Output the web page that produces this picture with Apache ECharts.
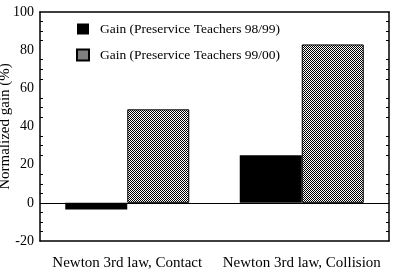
<!DOCTYPE html>
<html>
<head>
<meta charset="utf-8">
<script src="https://cdn.jsdelivr.net/npm/echarts@6/dist/echarts.min.js"></script>
<style>
html, body { margin: 0; padding: 0; background: #fff; }
#main { width: 396px; height: 272px; }
</style>
</head>
<body>
<div id="main"></div>
<script>
var categories = ['Newton 3rd law, Contact', 'Newton 3rd law, Collision'];
var seriesNames = ['Gain (Preservice Teachers 98/99)', 'Gain (Preservice Teachers 99/00)'];
var gain9899 = [-3.5, 25];
var gain9900 = [49, 83];
var yTicks = [-20, 0, 20, 40, 60, 80, 100];

// stipple fill for the 99/00 bars
var pat = document.createElement('canvas');
pat.width = 2;
pat.height = 2;
var pc = pat.getContext('2d');
pc.fillStyle = '#fff';
pc.fillRect(0, 0, 2, 2);
pc.fillStyle = '#000';
pc.fillRect(0, 0, 1, 1);
pc.fillRect(1, 1, 1, 1);

var font = 'Liberation Serif';
var myChart = echarts.init(document.getElementById('main'));
var option = {
	backgroundColor: '#fff',
	animation: false,
	legend: {
		orient: 'vertical',
		left: 76,
		top: 21,
		padding: 0,
		itemWidth: 12,
		itemHeight: 11,
		itemGap: 10,
		icon: 'rect',
		textStyle: {
			fontFamily: font,
			fontSize: 13.5,
			lineHeight: 16,
			color: '#000',
			padding: [0, 0, 0, 6]
		},
		data: seriesNames
	},
	grid: {
		left: 40,
		right: 7,
		top: 12,
		bottom: 31,
		containLabel: false,
		outerBoundsMode: 'none'
	},
	xAxis: [{
		type: 'category',
		data: categories,
		position: 'bottom',
		axisLine: { onZero: false, lineStyle: { color: '#000', width: 1.5 } },
		axisTick: { inside: true, length: 4, lineStyle: { color: '#000' } },
		axisLabel: {
			interval: 0,
			color: '#000',
			fontFamily: font,
			fontSize: 15,
			margin: 15
		}
	}, {
		type: 'category',
		data: categories,
		position: 'top',
		axisLine: { onZero: false, lineStyle: { color: '#000', width: 1.5 } },
		axisTick: { inside: true, length: 4, lineStyle: { color: '#000' } },
		axisLabel: { show: false }
	}],
	yAxis: [{
		type: 'value',
		min: yTicks[0],
		max: yTicks[yTicks.length - 1],
		interval: 20,
		name: 'Normalized gain (%)',
		nameLocation: 'middle',
		nameGap: 27,
		nameMoveOverlap: false,
		nameTextStyle: { fontFamily: font, fontSize: 15, color: '#000' },
		axisLine: { show: true, onZero: false, lineStyle: { color: '#000', width: 1.5 } },
		axisTick: { inside: true, length: 5, lineStyle: { color: '#000' } },
		minorTick: { show: true, splitNumber: 4, length: 3, lineStyle: { color: '#000' } },
		splitLine: { show: false },
		axisLabel: {
			color: '#000',
			fontFamily: font,
			fontSize: 14,
			margin: 6
		}
	}, {
		type: 'value',
		position: 'right',
		min: yTicks[0],
		max: yTicks[yTicks.length - 1],
		interval: 20,
		axisLine: { show: true, onZero: false, lineStyle: { color: '#000', width: 1.5 } },
		axisTick: { inside: true, length: 5, lineStyle: { color: '#000' } },
		minorTick: { show: true, splitNumber: 4, length: 3, lineStyle: { color: '#000' } },
		splitLine: { show: false },
		axisLabel: { show: false }
	}],
	series: [{
		name: seriesNames[0],
		type: 'bar',
		data: gain9899,
		barWidth: 62,
		barGap: '0%',
		itemStyle: { color: '#000' },
		markLine: {
			silent: true,
			symbol: 'none',
			label: { show: false },
			lineStyle: { color: '#000', type: 'solid', width: 1 },
			data: [{ yAxis: 0 }]
		}
	}, {
		name: seriesNames[1],
		type: 'bar',
		data: gain9900,
		barWidth: 62,
		barGap: '0%',
		itemStyle: {
			color: { image: pat, repeat: 'repeat' },
			borderColor: '#000',
			borderWidth: 1
		}
	}]
};
myChart.setOption(option);
</script>
</body>
</html>
